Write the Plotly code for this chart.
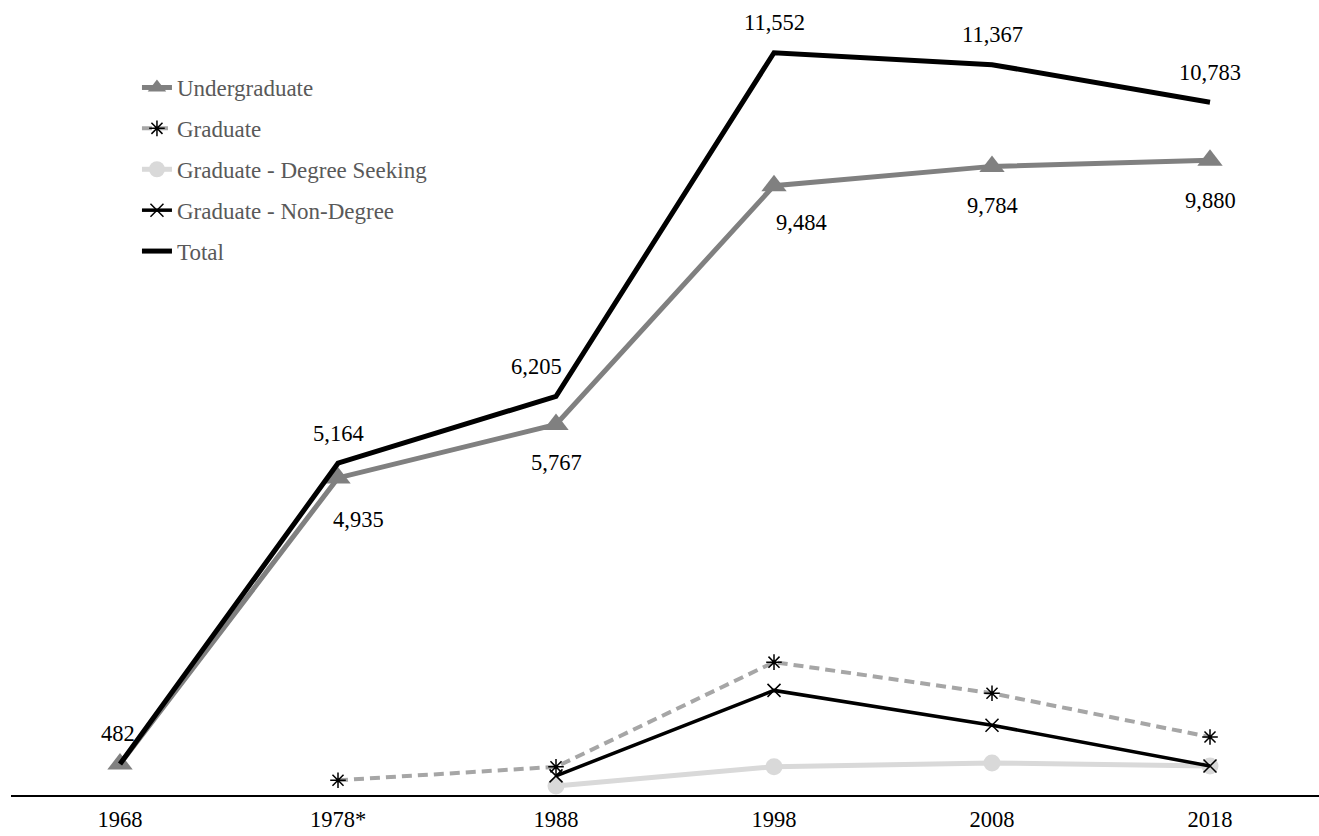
import plotly.graph_objects as go

years = ["1968", "1978*", "1988", "1998", "2008", "2018"]
undergrad = [482, 4935, 5767, 9484, 9784, 9880]
graduate = [None, 229, 438, 2068, 1583, 903]
grad_degree = [None, None, 140, 440, 498, 452]
grad_nondegree = [None, None, 298, 1628, 1085, 451]
total = [482, 5164, 6205, 11552, 11367, 10783]

# label offsets (pixels)
total_dx = [-2, 0, -20, 0, 0, 0]
total_dy = [31, 30, 30, 30, 30, 30]
ug_show = [False, True, True, True, True, True]
ug_dx = [0, 20, 0, 27, 0, 0]
ug_dy = [0, -42, -38, -37, -39, -40]

FONT = "Liberation Serif, Times New Roman, serif"

fig = go.Figure()
fig.add_trace(go.Scatter(
    x=years, y=undergrad, name="Undergraduate", mode="lines+markers",
    line=dict(color="#808080", width=5),
    marker=dict(symbol="triangle-up", size=22, color="#808080"),
    legendgroup="a"))
fig.add_trace(go.Scatter(
    x=years, y=graduate, name="Graduate", mode="lines+markers",
    line=dict(color="#a6a6a6", width=4, dash="10px,6px"),
    marker=dict(symbol="asterisk-open", size=13, color="black",
                line=dict(color="black", width=1.5)),
    legendgroup="b"))
fig.add_trace(go.Scatter(
    x=years, y=grad_degree, name="Graduate - Degree Seeking", mode="lines+markers",
    line=dict(color="#d9d9d9", width=5),
    marker=dict(symbol="circle", size=17, color="#d9d9d9"),
    legendgroup="c"))
fig.add_trace(go.Scatter(
    x=years, y=grad_nondegree, name="Graduate - Non-Degree", mode="lines+markers",
    line=dict(color="black", width=3.5),
    marker=dict(symbol="x-thin-open", size=13, color="black",
                line=dict(color="black", width=1.5)),
    legendgroup="d"))
fig.add_trace(go.Scatter(
    x=years, y=total, name="Total", mode="lines",
    line=dict(color="black", width=5),
    legendgroup="e"))

annotations = []
for i, v in enumerate(total):
    annotations.append(dict(x=i, y=v, xref="x", yref="y", text=f"{v:,}",
                            showarrow=False,
                            xshift=total_dx[i], yshift=total_dy[i],
                            font=dict(family=FONT, size=22.5, color="black")))
for i, v in enumerate(undergrad):
    if ug_show[i]:
        annotations.append(dict(x=i, y=v, xref="x", yref="y", text=f"{v:,}",
                                showarrow=False,
                                xshift=ug_dx[i], yshift=ug_dy[i],
                                font=dict(family=FONT, size=22.5, color="black")))

fig.update_layout(
    width=1319, height=836,
    margin=dict(l=11, r=0, t=24, b=41),
    paper_bgcolor="white", plot_bgcolor="white",
    font=dict(family=FONT, size=22.5, color="black"),
    showlegend=True,
    legend=dict(x=0.0963, y=0.9455, xanchor="left", yanchor="top",
                traceorder="grouped", tracegroupgap=8,
                font=dict(family=FONT, size=23, color="#595959"),
                bgcolor="rgba(0,0,0,0)"),
    annotations=annotations,
)
fig.update_xaxes(type="category", range=[-0.5, 5.5], showgrid=False,
                 showline=True, linecolor="black", linewidth=2,
                 ticks="", zeroline=False,
                 tickfont=dict(family=FONT, size=22.5, color="black"),
                 ticklabelstandoff=3)
fig.update_yaxes(range=[0, 12000], visible=False, showgrid=False, zeroline=False)

fig.write_html("out.html", config={"displayModeBar": False},
               post_script="document.body.style.margin='0';document.body.style.overflow='hidden';")
